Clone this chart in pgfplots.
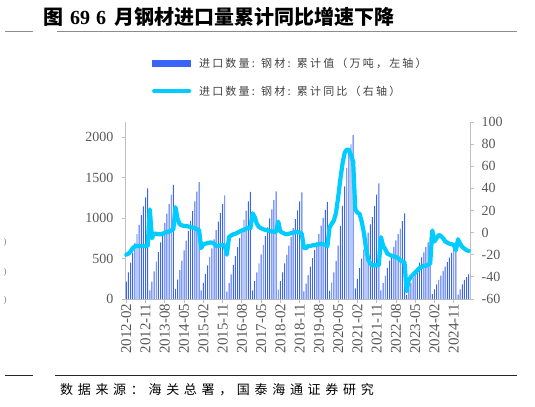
\documentclass[border=0pt]{standalone}
\usepackage{fontspec}
\setmainfont{Liberation Serif}
\newfontfamily\cjk{Noto Sans CJK SC}
\newfontfamily\cjkls{Noto Sans CJK SC}[LetterSpace=20]
\newfontfamily\cjkfoot{Noto Sans CJK SC}[LetterSpace=36]
\usepackage{pgfplots}
\usepackage{pgfplotstable}
\pgfplotsset{compat=1.18}

\definecolor{barblue}{RGB}{58,100,245}
\definecolor{cyanline}{RGB}{0,204,255}
\definecolor{axisgray}{RGB}{191,191,191}
\definecolor{ticktext}{RGB}{89,89,89}
\definecolor{legtext}{RGB}{64,64,64}
\definecolor{rulegray}{RGB}{140,140,140}

% i = months after 2012-02, v = cumulative imports (10k t), r = cumulative yoy (%)
\pgfplotstableread{
i v r
0 215 -20
1 330 -19
2 450 -17
3 570 -14
4 690 -12.5
5 800 -12
6 915 -12
7 1035 -12
8 1145 -12
9 1255 -12
10 1366 -12
11 105 21
12 215 -5
13 340 -1
14 460 -1
15 580 -1.5
16 700 -1.5
17 820 -1
18 940 0
19 1055 0.5
20 1170 1
21 1290 2
22 1408 3.1
23 125 23
24 240 12
25 355 7.5
26 475 6.5
27 600 6
28 720 6
29 840 5.5
30 965 5
31 1085 4.5
32 1205 4
33 1325 3
34 1443 2.5
35 105 -14
36 200 -10.5
37 310 -10
38 415 -9.5
39 520 -9
40 625 -9
41 735 -10
42 850 -12
43 955 -12
44 1060 -11.5
45 1170 -11.5
46 1278 -11.4
47 90 -20
48 195 -4
49 305 -2.5
50 420 -1.5
51 530 -1
52 640 0
53 750 1
54 865 2
55 980 2.5
56 1090 3.5
57 1205 4.5
58 1321 4
59 105 17.5
60 220 14
61 330 8
62 440 5
63 550 4
64 665 3
65 775 2.5
66 885 2
67 995 1.5
68 1105 1
69 1220 1
70 1330 0.7
71 115 10
72 220 1
73 330 0
74 440 -1
75 545 -1.5
76 660 -1
77 765 -0.5
78 875 0
79 985 0.5
80 1095 0.5
81 1205 0
82 1317 -1
83 95 -14
84 190 -14
85 295 -12
86 400 -12
87 505 -11.5
88 605 -11.5
89 705 -11
90 805 -10.5
91 905 -10
92 1000 -10.5
93 1100 -11
94 1200 -12
95 100 5
96 205 8
97 330 11
98 470 18
99 660 32
100 900 48
101 1150 62
102 1390 72
103 1620 75
104 1800 75
105 1910 70
106 2023 64
107 130 21
108 250 18
109 380 17
110 500 10
111 610 0
112 720 -14
113 820 -24
114 920 -28
115 1010 -29.5
116 1150 -29.5
117 1290 -29.5
118 1427 -29.5
119 105 -4
120 195 -12
121 290 -15
122 385 -19
123 475 -20
124 555 -21
125 640 -21.5
126 725 -22
127 800 -23
128 870 -25
129 960 -26
130 1057 -27
131 50 -53
132 125 -43
133 200 -40
134 260 -38
135 320 -36
136 385 -34
137 450 -32
138 515 -31
139 575 -30
140 640 -30
141 700 -29
142 765 -28
143 60 2
144 120 -8
145 180 -5
146 235 -2
147 290 -3
148 345 -5
149 400 -8
150 455 -9
151 510 -10
152 570 -10.5
153 620 -11
154 665 -16
155 55 -6
156 120 -10
157 180 -13
158 235 -14.5
159 270 -16
160 305 -16.5
}\steel

\begin{document}
\begin{tikzpicture}[x=1bp,y=1bp]
\useasboundingbox (0,0) rectangle (535,406);

% title and rules
\node[anchor=west, inner sep=0pt] at (43,389)
  {\fontsize{20bp}{22bp}\selectfont{\cjk\bfseries 图}\hspace{7bp}{\bfseries 69}\hspace{6bp}{\bfseries 6}\hspace{8bp}{\cjk\bfseries 月钢材进口量累计同比增速下降}};
\draw[rulegray, line width=1.5bp] (5,374.3) -- (33,374.3);
\draw[rulegray, line width=1.5bp] (57,374.3) -- (517,374.3);
\draw[black!85, line width=0.8bp] (5,31) -- (33,31);
\draw[black!85, line width=0.8bp] (55,31) -- (517,31);
\node[anchor=west, inner sep=0pt] at (60,16)
  {\cjkfoot\fontsize{13bp}{15bp}\selectfont 数据来源：海关总署，国泰海通证券研究};

% cut-off marks at the left edge
\foreach \yy in {164,134,106}
  \node[text=gray, inner sep=0pt, font=\fontsize{9bp}{10bp}\selectfont] at (5,\yy) {)};

\begin{axis}[
  at={(125bp,107bp)}, anchor=south west,
  width=345bp, height=177bp, scale only axis,
  xmin=-0.6, xmax=160.6,
  ymin=0, ymax=2185,
  axis y line*=left, axis x line*=bottom,
  axis line style={axisgray, line width=0.8bp},
  tick align=outside, major tick length=3.5bp,
  tick style={axisgray, line width=0.8bp},
  xtick={0,9,...,153},
  xticklabels={2012-02,2012-11,2013-08,2014-05,2015-02,2015-11,2016-08,2017-05,2018-02,2018-11,2019-08,2020-05,2021-02,2021-11,2022-08,2023-05,2024-02,2024-11},
  xticklabel style={rotate=90, anchor=east, text=ticktext, font=\fontsize{15bp}{16bp}\selectfont, inner sep=1bp},
  ytick={0,500,1000,1500,2000},
  yticklabels={0,500,1000,1500,2000},
  yticklabel style={text=ticktext, font=\fontsize{14bp}{16bp}\selectfont, inner sep=0pt, xshift=-8bp},
  clip=false,
]
\addplot[ybar, bar width=0.45, fill=barblue, draw=none] table[x=i, y=v] {\steel};
\end{axis}

\begin{axis}[
  at={(125bp,107bp)}, anchor=south west,
  width=345bp, height=177bp, scale only axis,
  xmin=-0.6, xmax=160.6,
  ymin=-60, ymax=100,
  axis y line*=right, axis x line=none,
  axis line style={axisgray, line width=0.8bp},
  tick align=outside, major tick length=3.5bp,
  tick style={axisgray, line width=0.8bp},
  ytick={-60,-40,...,100},
  yticklabels={-60,-40,-20,0,20,40,60,80,100},
  yticklabel style={text=ticktext, font=\fontsize{14bp}{16bp}\selectfont, inner sep=0pt, xshift=8bp},
  clip=false,
  legend style={at={(0.078,1.375)}, anchor=north west, draw=none, fill=none,
    inner sep=0pt, row sep=13bp,
    font=\cjkls\fontsize{11bp}{13bp}\selectfont, text=legtext,
    /tikz/every odd column/.append style={column sep=6bp}},
  legend cell align=left,
]
\addlegendimage{legend image code/.code={\fill[barblue] (0bp,-3bp) rectangle (38bp,3bp);}}
\addlegendentry{进口数量: 钢材: 累计值（万吨，左轴）}
\addplot[cyanline, line width=4.2bp, line join=round, line cap=round,
  legend image code/.code={\draw[cyanline, line width=3.5bp, line cap=round] (1.5bp,0bp) -- (37bp,0bp);}]
  table[x=i, y=r] {\steel};
\addlegendentry{进口数量: 钢材: 累计同比（右轴）}
\end{axis}
\end{tikzpicture}
\end{document}
